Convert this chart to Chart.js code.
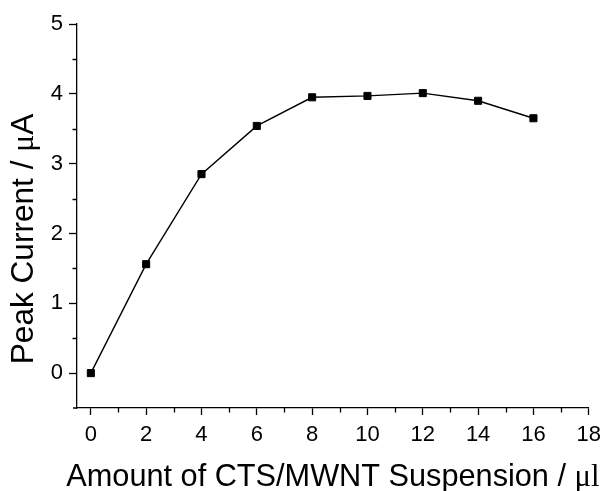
<!DOCTYPE html>
<html>
<head>
<meta charset="utf-8">
<script src="https://cdn.jsdelivr.net/npm/chart.js@4"></script>
<style>
    html, body { margin: 0; padding: 0; background: #fff; }
    #wrap { width: 608px; height: 491px; }
</style>
</head>
<body>
<div id="wrap"><canvas id="peakChart" width="608" height="491"></canvas></div>
<script>
const amounts = [0, 2, 4, 6, 8, 10, 12, 14, 16];
const peakCurrent = [0, 1.56, 2.85, 3.54, 3.95, 3.97, 4.01, 3.90, 3.65];

const xMajorTicks = [0, 2, 4, 6, 8, 10, 12, 14, 16, 18];
const xMinorTicks = [1, 3, 5, 7, 9, 11, 13, 15, 17];
const yMajorTicks = [0, 1, 2, 3, 4, 5];
const yMinorTicks = [0.5, 1.5, 2.5, 3.5, 4.5];

const xTitle = [{ text: 'Amount of CTS/MWNT Suspension / ', serif: false }, { text: 'μl', serif: true }];
const yTitle = [{ text: 'Peak Current / ', serif: false }, { text: 'μ', serif: true }, { text: 'A', serif: false }];

function drawParts(ctx, parts, cx, baseline, size) {
    const sans = size + 'px "Liberation Sans", Arial, sans-serif';
    const serif = size + 'px "Liberation Serif", "Times New Roman", serif';
    let total = 0;
    parts.forEach(p => {
        ctx.font = p.serif ? serif : sans;
        p.w = ctx.measureText(p.text).width;
        total += p.w;
    });
    let x = cx - total / 2;
    parts.forEach(p => {
        ctx.font = p.serif ? serif : sans;
        ctx.fillText(p.text, x, baseline);
        x += p.w;
    });
}

const axisExtras = {
    id: 'axisExtras',
    afterDraw(chart) {
        const ctx = chart.ctx;
        const xs = chart.scales.x;
        const ys = chart.scales.y;
        ctx.save();
        ctx.strokeStyle = '#000';
        ctx.lineWidth = 1.3;
        ctx.beginPath();
        xMinorTicks.forEach(v => {
            const px = Math.round(xs.getPixelForValue(v)) + 0.5;
            ctx.moveTo(px, xs.top);
            ctx.lineTo(px, xs.top + 4.5);
        });
        yMinorTicks.forEach(v => {
            const py = Math.round(ys.getPixelForValue(v)) + 0.5;
            ctx.moveTo(ys.right, py);
            ctx.lineTo(ys.right - 4.5, py);
        });
        // small overhang of the x axis past the y axis
        ctx.moveTo(ys.right - 4, xs.top);
        ctx.lineTo(ys.right, xs.top);
        ctx.stroke();

        ctx.fillStyle = '#000';
        ctx.textBaseline = 'alphabetic';
        ctx.textAlign = 'left';
        drawParts(ctx, xTitle, (chart.chartArea.left + chart.chartArea.right) / 2, 486, 30.7);

        ctx.translate(33, 239);
        ctx.rotate(-Math.PI / 2);
        drawParts(ctx, yTitle, 0, 0, 31.6);
        ctx.restore();
    }
};

function createChart() {
    const ctx = document.getElementById('peakChart');
    new Chart(ctx, {
        type: 'line',
        data: {
            datasets: [{
                data: amounts.map((a, i) => ({ x: a, y: peakCurrent[i] })),
                borderColor: '#000',
                backgroundColor: '#000',
                borderWidth: 1.4,
                fill: false,
                tension: 0,
                pointStyle: 'rect',
                pointRadius: 5,
                pointBorderWidth: 1,
                pointBorderColor: '#000',
                pointBackgroundColor: '#000'
            }]
        },
        options: {
            responsive: false,
            animation: false,
            layout: { padding: { top: 24, right: 15, left: 0, bottom: 0 } },
            plugins: {
                legend: { display: false },
                tooltip: { enabled: false }
            },
            scales: {
                x: {
                    type: 'linear',
                    min: -0.5,
                    max: 18,
                    afterBuildTicks: scale => { scale.ticks = xMajorTicks.map(v => ({ value: v })); },
                    afterFit: scale => { scale.height = 83; },
                    border: { display: true, color: '#000', width: 1.3 },
                    grid: { drawOnChartArea: false, tickLength: 7, tickColor: '#000', tickWidth: 1.3 },
                    ticks: {
                        color: '#000',
                        padding: 7,
                        maxRotation: 0,
                        autoSkip: false,
                        font: { family: '"Liberation Sans", Arial, sans-serif', size: 22 }
                    }
                },
                y: {
                    type: 'linear',
                    min: -0.5,
                    max: 5,
                    afterBuildTicks: scale => { scale.ticks = yMajorTicks.map(v => ({ value: v })); },
                    afterFit: scale => { scale.width = 77; },
                    border: { display: true, color: '#000', width: 1.3 },
                    grid: { drawOnChartArea: false, tickLength: 8, tickColor: '#000', tickWidth: 1.3 },
                    ticks: {
                        color: '#000',
                        padding: 6,
                        autoSkip: false,
                        font: { family: '"Liberation Sans", Arial, sans-serif', size: 22 }
                    }
                }
            }
        },
        plugins: [axisExtras]
    });
}

window.addEventListener('DOMContentLoaded', () => {
    createChart();
});
</script>
</body>
</html>
